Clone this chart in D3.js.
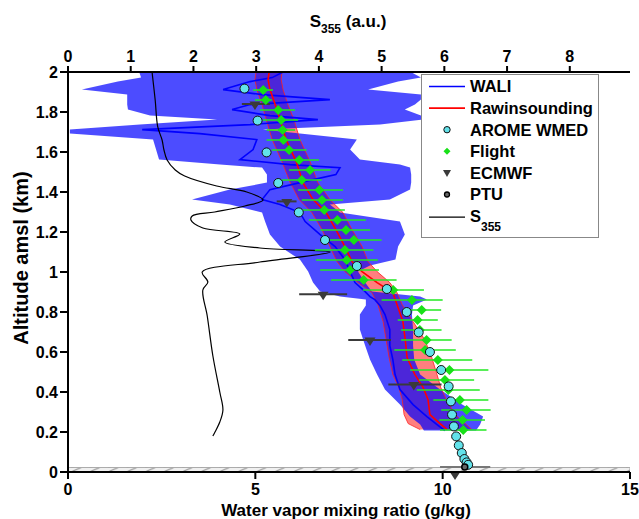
<!DOCTYPE html>
<html><head><meta charset="utf-8">
<script src="https://cdn.jsdelivr.net/npm/d3@7"></script>
<style>
body{margin:0;background:#fff;}
svg text{font-family:"Liberation Sans",Arial,sans-serif;font-weight:bold;fill:#000;}
</style></head><body>
<svg id="chart" width="639" height="519"></svg>
<script>
// WALI lidar profile (g/kg) with its uncertainty envelope
const waliAlt = [2.0,1.972,1.952,1.912,1.887,1.862,1.837,1.812,1.782,1.762,1.737,1.712,1.692,1.662,1.612,1.562,1.537,1.522,1.487,1.447,1.412,1.362,1.337,1.297,1.252,1.187,1.127,1.062,1.032,1.002,0.947,0.902,0.877,0.862,0.832,0.787,0.712,0.632,0.562,0.487,0.412,0.337,0.277,0.237,0.207];
const waliVal = [5.74,5.45,4.86,4.14,5.18,6.99,4.86,4.38,5.39,6.67,4.86,1.98,3.52,5.04,4.94,4.59,5.93,7.26,7.15,6.19,5.39,5.18,5.66,6.19,6.33,6.73,7.13,7.39,7.46,7.53,7.66,7.93,8.06,8.19,8.33,8.46,8.59,8.59,8.67,8.73,8.86,9.21,9.58,9.85,10.06];
const waliLo = [1.90,1.95,1.33,0.37,1.58,1.58,1.58,1.60,2.19,3.98,1.92,0.05,0.05,2.27,2.35,2.43,4.06,5.18,5.31,5.31,4.32,3.31,4.32,5.18,5.26,5.39,5.66,6.19,6.30,6.41,6.54,6.73,7.26,7.95,7.95,7.79,7.79,7.93,8.06,8.25,8.46,8.86,9.13,9.40,9.50];
const waliHi = [9.15,9.42,8.81,8.01,9.42,9.42,9.26,8.99,9.42,9.48,8.33,5.20,6.19,7.71,7.53,7.79,8.86,9.13,9.16,9.16,9.13,8.59,6.99,7.26,8.86,8.99,8.81,8.74,8.06,7.74,7.93,8.11,9.40,9.58,9.21,9.18,9.21,9.21,9.24,9.40,9.93,10.52,11.08,11.00,10.89];

// Rawinsounding profile with its envelope
const sondeAlt = [2.0,1.962,1.912,1.837,1.762,1.662,1.552,1.447,1.362,1.297,1.212,1.127,1.052,1.002,0.947,0.897,0.837,0.752,0.662,0.572,0.487,0.422,0.362,0.287,0.242,0.212];
const sondeVal = [5.37,5.34,5.39,5.53,5.66,5.82,6.09,6.27,6.54,6.89,7.15,7.39,7.58,7.85,8.25,8.67,8.78,8.94,9.00,9.05,9.26,9.48,9.61,9.66,9.93,10.12];
const sondeLo = [5.02,4.99,5.04,5.18,5.29,5.45,5.71,5.93,6.17,6.51,6.78,6.99,7.18,7.39,7.74,8.11,8.27,8.41,8.49,8.57,8.67,8.83,8.92,8.97,9.08,9.40];
const sondeHi = [5.71,5.69,5.74,5.87,6.03,6.19,6.46,6.67,6.99,7.34,7.58,7.85,8.01,8.25,8.59,8.78,8.92,9.21,9.52,9.71,9.85,9.95,10.10,10.33,10.60,10.78];

// AROME WMED model profile
const aromeAlt = [1.917,1.757,1.598,1.445,1.298,1.16,1.03,0.915,0.80,0.698,0.60,0.51,0.428,0.353,0.287,0.228,0.178,0.133,0.095,0.065,0.048,0.036];
const aromeVal = [4.71,5.06,5.30,5.61,6.16,6.86,7.71,8.51,9.04,9.36,9.66,9.96,10.16,10.22,10.25,10.30,10.36,10.43,10.51,10.58,10.64,10.68];

// In situ aircraft measurements with error bars
const flightAlt = [1.91,1.86,1.81,1.76,1.71,1.66,1.61,1.56,1.51,1.46,1.41,1.36,1.31,1.26,1.21,1.16,1.11,1.06,1.01,0.96,0.91,0.86,0.81,0.76,0.71,0.66,0.61,0.56,0.51,0.46,0.41,0.36,0.31,0.26,0.21];
const flightVal = [5.21,5.28,5.61,5.69,5.73,5.75,5.90,6.17,6.46,6.24,6.71,6.78,6.84,7.19,7.42,7.63,7.39,7.44,7.53,7.89,8.68,9.18,9.44,9.33,9.39,9.57,9.53,9.87,10.18,10.06,10.15,10.46,10.64,10.53,10.55];
const flightLo = [4.94,4.99,5.12,5.20,5.30,5.30,5.44,5.66,5.90,5.70,6.14,6.24,6.26,6.43,6.74,6.97,6.59,6.62,6.73,7.02,7.87,8.37,9.04,8.80,8.89,8.89,8.71,8.92,9.13,9.37,9.31,9.75,9.96,9.91,9.93];
const flightHi = [5.47,5.44,6.06,6.14,6.06,6.21,6.37,6.70,7.01,6.77,7.34,7.34,7.39,7.95,8.06,8.37,8.15,8.27,8.30,8.77,9.50,10.00,9.96,9.87,9.97,10.24,10.35,10.79,11.22,10.84,10.99,11.22,11.28,11.13,11.17];

// ECMWF model levels with error bars
const ecmwfAlt = [1.84,1.353,0.889,0.66,0.437,-0.01];
const ecmwfVal = [4.99,5.84,6.81,8.06,9.23,10.33];
const ecmwfLo = [4.64,5.57,6.17,7.48,8.55,10.33];
const ecmwfHi = [5.39,6.10,7.45,8.62,9.97,10.33];

// Surface PTU station
const ptuAlt = [0.025];
const ptuVal = [10.59];
const ptuLo = [9.93];
const ptuHi = [11.27];

// Lidar raw signal S355 (top axis)
const s355Alt = [2.0,1.86,1.727,1.66,1.61,1.56,1.51,1.48,1.43,1.40,1.36,1.33,1.30,1.28,1.26,1.22,1.19,1.15,1.12,1.10,1.05,1.00,0.95,0.91,0.78,0.58,0.40,0.31,0.25,0.18];
const s355Val = [1.34,1.39,1.43,1.50,1.53,1.58,1.71,1.86,2.37,2.85,3.11,2.82,2.34,1.98,1.96,2.15,2.74,2.50,3.06,4.18,3.06,2.14,2.23,2.15,2.22,2.31,2.42,2.47,2.42,2.31];

// Axis ticks
const yTicks = [0,0.2,0.4,0.6,0.8,1,1.2,1.4,1.6,1.8,2];
const yTickLabels = ["0","0.2","0.4","0.6","0.8","1","1.2","1.4","1.6","1.8","2"];
const xTicks = [0,5,10,15];
const xTopTicks = [0,1,2,3,4,5,6,7,8];

const legendItems = ["WALI","Rawinsounding","AROME WMED","Flight","ECMWF","PTU","S"];

const svg = d3.select("#chart");
const L = 68, R = 630, T = 72, B = 472;
const x = d3.scaleLinear().domain([0,15]).range([L,R]);
const xTop = d3.scaleLinear().domain([0,8.96]).range([L,R]);
const y = d3.scaleLinear().domain([0,2]).range([B,T]);

const defs = svg.append("defs");
defs.append("clipPath").attr("id","plotClip").append("rect")
  .attr("x",L).attr("y",T).attr("width",R-L).attr("height",B-T);
const gh = y(0)-y(0.022);
const pat = defs.append("pattern").attr("id","hatch").attr("patternUnits","userSpaceOnUse")
  .attr("x",L).attr("y",y(0.022)).attr("width",18.5).attr("height",gh);
pat.append("rect").attr("width",18.5).attr("height",gh).attr("fill","#f0f0f0");
pat.append("line").attr("x1",3).attr("y1",gh).attr("x2",13).attr("y2",0)
  .attr("stroke","#808080").attr("stroke-width",0.9);

const g = svg.append("g").attr("clip-path","url(#plotClip)");

// ground layer
g.append("rect").attr("x",L).attr("y",y(0.022)).attr("width",R-L).attr("height",gh)
  .attr("fill","url(#hatch)").attr("stroke","#999").attr("stroke-width",0.8);

const zip = (a,...rest)=>a.map((v,i)=>[v,...rest.map(r=>r[i])]);
const sonde = zip(sondeAlt,sondeVal,sondeLo,sondeHi);
const wali = zip(waliAlt,waliVal,waliLo,waliHi);

const band = d3.area().y(d=>y(d[0])).x0(d=>x(d[2])).x1(d=>x(d[3]));
const lineV = d3.line().y(d=>y(d[0])).x(d=>x(d[1]));

g.append("path").datum(sonde).attr("d",band).attr("fill","#ff0000").attr("fill-opacity",0.5);
g.append("path").datum(wali).attr("d",band).attr("fill","#0000ff").attr("fill-opacity",0.7);
// envelope edges of the sounding
g.append("path").datum(sonde).attr("d",d3.line().y(d=>y(d[0])).x(d=>x(d[2])))
  .attr("fill","none").attr("stroke","#ff2020").attr("stroke-width",0.8);
g.append("path").datum(sonde).attr("d",d3.line().y(d=>y(d[0])).x(d=>x(d[3])))
  .attr("fill","none").attr("stroke","#ff2020").attr("stroke-width",0.8);
g.append("path").datum(wali).attr("d",lineV).attr("fill","none").attr("stroke","#0000ff").attr("stroke-width",1.6);
g.append("path").datum(sonde).attr("d",lineV).attr("fill","none").attr("stroke","#ff0000").attr("stroke-width",1.6);

// S355 on the top axis
g.append("path").datum(zip(s355Alt,s355Val))
  .attr("d",d3.line().curve(d3.curveCatmullRom).y(d=>y(d[0])).x(d=>xTop(d[1])))
  .attr("fill","none").attr("stroke","#000").attr("stroke-width",1.2);

// point markers are drawn unclipped so that surface values stay visible
const m = svg.append("g");

// ECMWF
const ecm = zip(ecmwfAlt,ecmwfVal,ecmwfLo,ecmwfHi);
m.selectAll(".ecmBar").data(ecm).join("line")
  .attr("x1",d=>x(d[2])).attr("x2",d=>x(d[3])).attr("y1",d=>y(d[0])).attr("y2",d=>y(d[0]))
  .attr("stroke","#3a3a3a").attr("stroke-width",2);
const tri = "M-5.5,-2.5L5.5,-2.5L0,6Z";
m.selectAll(".ecmPt").data(ecm).join("path")
  .attr("d",tri).attr("transform",d=>`translate(${x(d[1])},${y(d[0])})`).attr("fill","#3a3a3a");

// PTU error bar
const ptu = zip(ptuAlt,ptuVal,ptuLo,ptuHi);
m.selectAll(".ptuBar").data(ptu).join("line")
  .attr("x1",d=>x(d[2])).attr("x2",d=>x(d[3])).attr("y1",d=>y(d[0])).attr("y2",d=>y(d[0]))
  .attr("stroke","#777").attr("stroke-width",2);

// Flight
const fl = zip(flightAlt,flightVal,flightLo,flightHi);
m.selectAll(".flBar").data(fl).join("line")
  .attr("x1",d=>x(d[2])).attr("x2",d=>x(d[3])).attr("y1",d=>y(d[0])).attr("y2",d=>y(d[0]))
  .attr("stroke","#22e822").attr("stroke-width",1.6);
const dia = "M0,-5L5,0L0,5L-5,0Z";
m.selectAll(".flPt").data(fl).join("path")
  .attr("d",dia).attr("transform",d=>`translate(${x(d[1])},${y(d[0])})`).attr("fill","#18e018");

// AROME
m.selectAll(".arPt").data(zip(aromeAlt,aromeVal)).join("circle")
  .attr("cx",d=>x(d[1])).attr("cy",d=>y(d[0])).attr("r",4.5)
  .attr("fill","#62e2ea").attr("stroke","#111").attr("stroke-width",1);

// PTU point
m.selectAll(".ptuPt").data(ptu).join("circle")
  .attr("cx",d=>x(d[1])).attr("cy",d=>y(d[0])).attr("r",3)
  .attr("fill","#666").attr("stroke","#000").attr("stroke-width",1.5);

// Axes
const ax = svg.append("g");
ax.append("line").attr("x1",L).attr("x2",L).attr("y1",T).attr("y2",B+1).attr("stroke","#000").attr("stroke-width",2);
ax.append("line").attr("x1",L-1).attr("x2",R).attr("y1",B).attr("y2",B).attr("stroke","#000").attr("stroke-width",2);
ax.append("line").attr("x1",L-1).attr("x2",R).attr("y1",T).attr("y2",T).attr("stroke","#000").attr("stroke-width",2);

yTicks.forEach((t,i)=>{
  ax.append("line").attr("x1",L-8).attr("x2",L).attr("y1",y(t)).attr("y2",y(t)).attr("stroke","#000").attr("stroke-width",2);
  ax.append("text").attr("x",L-10).attr("y",y(t)).attr("dy","0.36em").attr("text-anchor","end")
    .attr("font-size",16).text(yTickLabels[i]);
});
xTicks.forEach(t=>{
  ax.append("line").attr("x1",x(t)).attr("x2",x(t)).attr("y1",B).attr("y2",B+7).attr("stroke","#000").attr("stroke-width",2);
  ax.append("text").attr("x",x(t)).attr("y",B+23).attr("text-anchor","middle").attr("font-size",16).text(t);
});
xTopTicks.forEach(t=>{
  ax.append("line").attr("x1",xTop(t)).attr("x2",xTop(t)).attr("y1",T-6).attr("y2",T).attr("stroke","#000").attr("stroke-width",2);
  ax.append("text").attr("x",xTop(t)).attr("y",T-10).attr("text-anchor","middle").attr("font-size",16).text(t);
});

svg.append("text").attr("x",346).attr("y",516).attr("text-anchor","middle").attr("font-size",17)
  .text("Water vapor mixing ratio (g/kg)");
svg.append("text").attr("transform","translate(28,258) rotate(-90)").attr("text-anchor","middle").attr("font-size",20)
  .text("Altitude amsl (km)");
const topT = svg.append("text").attr("x",348).attr("y",27).attr("text-anchor","middle").attr("font-size",17);
topT.append("tspan").text("S");
topT.append("tspan").attr("font-size",12).attr("dy",6).text("355");
topT.append("tspan").attr("dy",-6).text(" (a.u.)");

// Legend
const lg = svg.append("g");
lg.append("rect").attr("x",421.5).attr("y",74.5).attr("width",177).attr("height",163)
  .attr("fill","#fff").attr("stroke","#888").attr("stroke-width",1);
const ly = i => 86.5 + i*21.6;
const lx0 = 429, lx1 = 465, mx = 447, tx = 470;
legendItems.forEach((name,i)=>{
  const t = lg.append("text").attr("x",tx).attr("y",ly(i)).attr("dy","0.36em").attr("font-size",16.5);
  t.append("tspan").text(name);
  if(i===6) t.append("tspan").attr("font-size",12).attr("dy",9).text("355");
});
lg.append("line").attr("x1",lx0).attr("x2",lx1).attr("y1",ly(0)).attr("y2",ly(0)).attr("stroke","#0000ff").attr("stroke-width",1.6);
lg.append("line").attr("x1",lx0).attr("x2",lx1).attr("y1",ly(1)).attr("y2",ly(1)).attr("stroke","#ff0000").attr("stroke-width",1.6);
lg.append("circle").attr("cx",mx).attr("cy",ly(2)).attr("r",3.2).attr("fill","#62e2ea").attr("stroke","#111").attr("stroke-width",1);
lg.append("path").attr("d","M0,-3.5L3.5,0L0,3.5L-3.5,0Z").attr("transform",`translate(${mx},${ly(3)})`).attr("fill","#18e018");
lg.append("path").attr("d","M-4,-3L4,-3L0,4Z").attr("transform",`translate(${mx},${ly(4)})`).attr("fill","#3a3a3a");
lg.append("circle").attr("cx",mx).attr("cy",ly(5)).attr("r",2.5).attr("fill","#666").attr("stroke","#000").attr("stroke-width",1.3);
lg.append("line").attr("x1",lx0).attr("x2",lx1).attr("y1",ly(6)+1).attr("y2",ly(6)+1).attr("stroke","#000").attr("stroke-width",1.2);
</script>
</body></html>
